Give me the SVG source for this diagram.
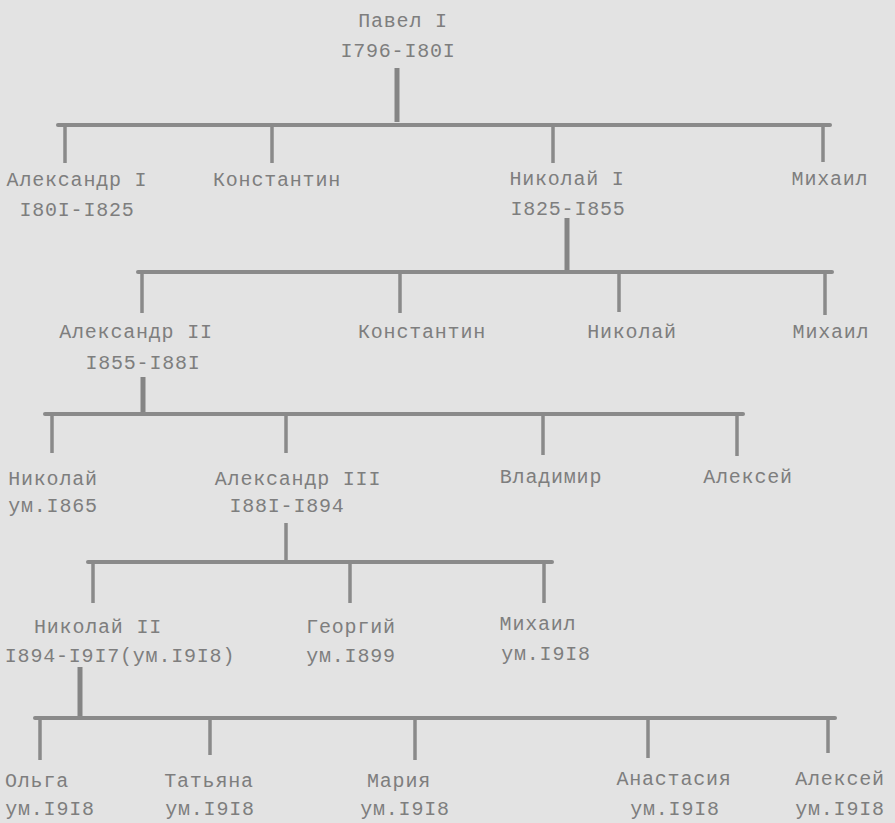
<svg xmlns="http://www.w3.org/2000/svg" width="895" height="823" viewBox="0 0 895 823">
<style>
text{font-family:"Liberation Mono","Courier New",monospace;font-size:20px;letter-spacing:0.8px;fill:#7e7e7e;text-anchor:middle}
.bar{stroke:#8a8a8a;stroke-width:4;fill:none;stroke-linecap:round}
.drop{stroke:#8a8a8a;stroke-width:3.5;fill:none}
.stem{stroke:#858585;stroke-width:5;fill:none}
</style>
<rect width="895" height="823" fill="#e3e3e3"/>
<g id="connectors">
<line class="stem" x1="397" y1="68" x2="397" y2="122"/>
<line class="bar" x1="58" y1="125" x2="830" y2="125"/>
<line class="drop" x1="65" y1="125" x2="65" y2="163"/>
<line class="drop" x1="272" y1="125" x2="272" y2="163"/>
<line class="drop" x1="553" y1="125" x2="553" y2="163"/>
<line class="drop" x1="823" y1="125" x2="823" y2="162"/>

<line class="stem" x1="567" y1="218" x2="567" y2="270"/>
<line class="bar" x1="138" y1="272" x2="832" y2="272"/>
<line class="drop" x1="142" y1="272" x2="142" y2="313"/>
<line class="drop" x1="400" y1="272" x2="400" y2="313"/>
<line class="drop" x1="619" y1="272" x2="619" y2="312"/>
<line class="drop" x1="825" y1="272" x2="825" y2="315"/>

<line class="stem" x1="143" y1="377" x2="143" y2="412"/>
<line class="bar" x1="45" y1="414" x2="743" y2="414"/>
<line class="drop" x1="52" y1="414" x2="52" y2="453"/>
<line class="drop" x1="286" y1="414" x2="286" y2="453"/>
<line class="drop" x1="543" y1="414" x2="543" y2="455"/>
<line class="drop" x1="737" y1="414" x2="737" y2="456"/>

<line class="drop" x1="286" y1="523" x2="286" y2="560"/>
<line class="bar" x1="88" y1="562" x2="552" y2="562"/>
<line class="drop" x1="93" y1="562" x2="93" y2="603"/>
<line class="drop" x1="350" y1="562" x2="350" y2="603"/>
<line class="drop" x1="544" y1="562" x2="544" y2="603"/>

<line class="stem" x1="80" y1="667" x2="80" y2="716"/>
<line class="bar" x1="35" y1="718" x2="835" y2="718"/>
<line class="drop" x1="40" y1="718" x2="40" y2="760"/>
<line class="drop" x1="210" y1="718" x2="210" y2="755"/>
<line class="drop" x1="415" y1="718" x2="415" y2="760"/>
<line class="drop" x1="648" y1="718" x2="648" y2="758"/>
<line class="drop" x1="828" y1="718" x2="828" y2="753"/>
</g>
<g id="pavel"><text x="403" y="27">Павел I</text><text x="398" y="57">I796-I80I</text></g>
<g id="alexander1"><text x="77" y="186">Александр I</text><text x="77" y="216">I80I-I825</text></g>
<g id="konstantin1"><text x="277" y="186">Константин</text></g>
<g id="nikolai1"><text x="567" y="185">Николай I</text><text x="568" y="215">I825-I855</text></g>
<g id="mikhail1"><text x="830" y="185">Михаил</text></g>
<g id="alexander2"><text x="136" y="338">Александр II</text><text x="143" y="369">I855-I88I</text></g>
<g id="konstantin2"><text x="422" y="338">Константин</text></g>
<g id="nikolai2"><text x="632" y="338">Николай</text></g>
<g id="mikhail2"><text x="831" y="338">Михаил</text></g>
<g id="nikolai3"><text x="53" y="485">Николай</text><text x="53" y="512">ум.I865</text></g>
<g id="alexander3"><text x="298" y="485">Александр III</text><text x="287" y="512">I88I-I894</text></g>
<g id="vladimir"><text x="551" y="483">Владимир</text></g>
<g id="aleksei1"><text x="748" y="483">Алексей</text></g>
<g id="nikolai4"><text x="98" y="633">Николай II</text><text x="120" y="662">I894-I9I7(ум.I9I8)</text></g>
<g id="georgii"><text x="351" y="633">Георгий</text><text x="351" y="662">ум.I899</text></g>
<g id="mikhail3"><text x="538" y="630">Михаил</text><text x="546" y="660">ум.I9I8</text></g>
<g id="olga"><text x="37" y="787">Ольга</text><text x="50" y="815">ум.I9I8</text></g>
<g id="tatiana"><text x="209" y="787">Татьяна</text><text x="210" y="815">ум.I9I8</text></g>
<g id="maria"><text x="399" y="787">Мария</text><text x="405" y="815">ум.I9I8</text></g>
<g id="anastasia"><text x="674" y="785">Анастасия</text><text x="675" y="815">ум.I9I8</text></g>
<g id="aleksei2"><text x="840" y="785">Алексей</text><text x="840" y="815">ум.I9I8</text></g>
</svg>
